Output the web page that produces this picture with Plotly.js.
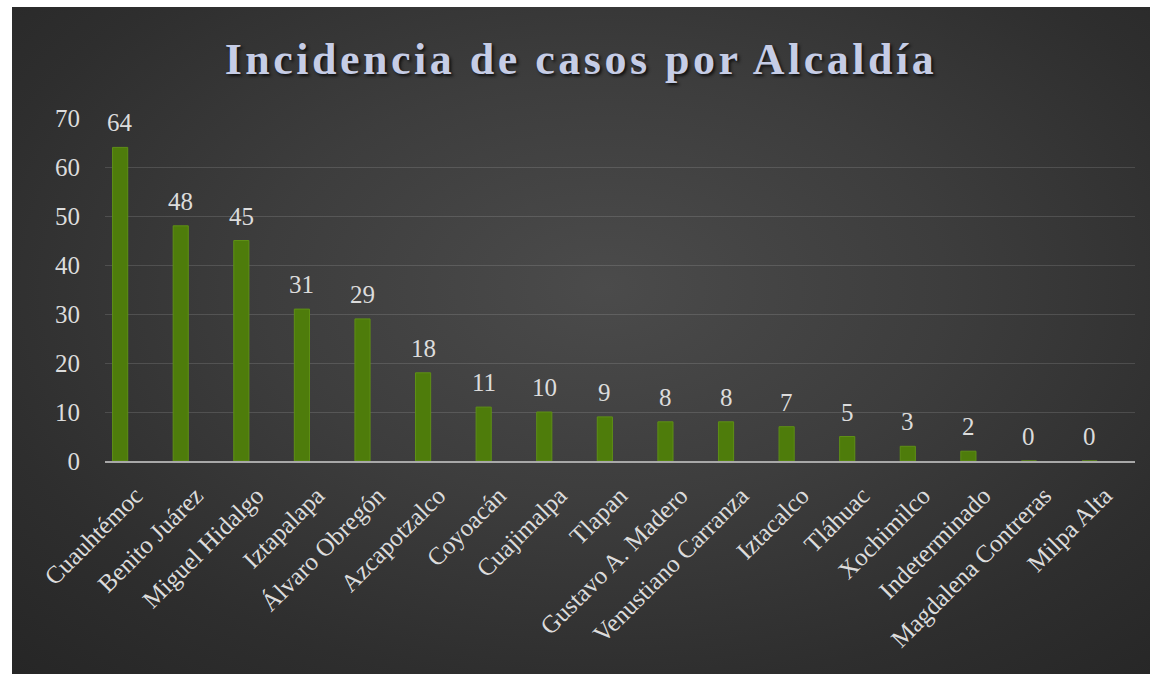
<!DOCTYPE html>
<html>
<head>
<meta charset="utf-8">
<script src="https://cdn.plot.ly/plotly-3.0.1.min.js"></script>
<style>
  html, body { margin:0; padding:0; background:#ffffff; width:1150px; height:674px; overflow:hidden; }
  #chart {
    position:absolute; left:12px; top:7px; width:1138px; height:667px;
    background: radial-gradient(ellipse 75% 80% at 52% 42%, #4b4b4b 0%, #3d3d3d 40%, #2e2e2e 75%, #262626 100%);
  }
  #chart .gtitle { letter-spacing: 3.5px; }
</style>
</head>
<body>
<div id="chart"></div>
<script>
const categories = ["Cuauhtémoc","Benito Juárez","Miguel Hidalgo","Iztapalapa","Álvaro Obregón","Azcapotzalco","Coyoacán","Cuajimalpa","Tlapan","Gustavo A. Madero","Venustiano Carranza","Iztacalco","Tláhuac","Xochimilco","Indeterminado","Magdalena Contreras","Milpa Alta"];
const casos = [64,48,45,31,29,18,11,10,9,8,8,7,5,3,2,0,0];
const titleText = "Incidencia de casos por Alcaldía";
const yTicks = [0,10,20,30,40,50,60,70];

const font = "Liberation Serif, serif";
const labelColor = "#dcdcdc";

const trace = {
  type: "bar",
  x: categories,
  y: casos,
  width: 0.25,
  offset: -0.375,
  marker: { color: "#4e7c0b", line: { color: "#5e8f16", width: 1 } },
  hoverinfo: "x+y"
};

const annotations = casos.map((v, i) => ({
  x: i - 0.25, y: v, xref: "x", yref: "y",
  text: String(v), showarrow: false, yanchor: "bottom", yshift: 9,
  font: { family: font, size: 25, color: labelColor }
}));

const layout = {
  width: 1138, height: 667,
  margin: { l: 93, r: 15, t: 111, b: 213 },
  paper_bgcolor: "rgba(0,0,0,0)",
  plot_bgcolor: "rgba(0,0,0,0)",
  showlegend: false,
  bargap: 0,
  title: {
    text: titleText,
    x: 0.5, xanchor: "center",
    y: 1 - 52/667, yanchor: "middle", yref: "container",
    font: { family: font, size: 44, weight: "bold", color: "#c6cde6", shadow: "2px 2px 3px #111" }
  },
  xaxis: {
    type: "category",
    range: [-0.5, 16.5],
    tickangle: -45,
    tickfont: { family: font, size: 25, color: labelColor },
    showline: true, linecolor: "#a8a8a8", linewidth: 2,
    ticks: "", showgrid: false, fixedrange: true,
    ticklabelstandoff: 8
  },
  yaxis: {
    range: [0, 70],
    tickvals: yTicks,
    tickfont: { family: font, size: 25, color: labelColor },
    showgrid: true, gridcolor: "rgba(255,255,255,0.13)", gridwidth: 1,
    zeroline: false, showline: false, ticks: "",
    ticklabelstandoff: 24, fixedrange: true
  },
  annotations: annotations
};

Plotly.newPlot("chart", [trace], layout, { displayModeBar: false, staticPlot: true });
</script>
</body>
</html>
